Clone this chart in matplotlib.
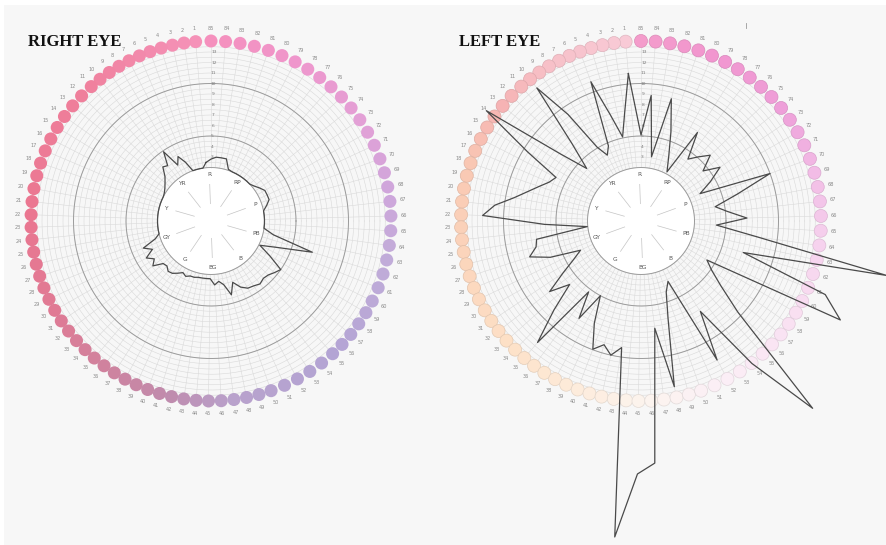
import numpy as np
import matplotlib
matplotlib.use("Agg")
import matplotlib.pyplot as plt
from matplotlib.colors import LinearSegmentedColormap, to_rgb
from matplotlib.patches import Rectangle
from matplotlib.lines import Line2D

# ---------------- data ----------------
caps = np.arange(1, 86)

# error score per cap (cap 1 .. cap 85)
right_eye = [
    2.5, 2.0, 2.0, 2.0, 2.0, 3.0, 3.8, 3.1, 4.9, 3.6,
    3.8, 3.0, 2.6, 2.3, 2.1, 2.0, 2.0, 2.0, 2.0, 2.0,
    2.0, 2.0, 2.0, 2.0, 2.0, 2.0, 2.5, 3.85, 3.1, 4.0,
    3.4, 3.9, 3.0, 2.9, 3.2, 3.1, 2.8, 2.5, 2.7, 2.5,
    2.5, 2.4, 2.4, 2.4, 2.4, 3.0, 2.7, 3.1, 4.2, 3.1,
    3.8, 4.2, 4.3, 4.5, 4.3, 4.4, 4.7, 5.0, 3.4, 2.1,
    3.7, 7.0, 3.0, 2.0, 2.0, 2.0, 2.0, 2.0, 2.4, 2.8,
    2.8, 2.8, 2.5, 2.2, 2.0, 2.0, 2.0, 2.0, 2.0, 2.0,
    2.1, 3.0, 3.0, 3.0, 2.8,
]

left_eye = [
    11.0, 7.3, 5.1, 7.4, 11.0, 4.7, 3.95, 5.1, 9.2, 13.0,
    6.8, 4.1, 6.9, 15.0, 9.5, 6.0, 6.4, 7.15, 8.05, 9.2,
    10.9, 12.0, 6.1, 2.05, 7.0, 7.2, 8.05, 6.2, 3.3, 4.3,
    5.85, 7.9, 6.0, 8.75, 12.1, 5.3, 7.9, 5.0, 7.6, 9.95,
    9.2, 10.0, 9.1, 27.1, 21.0, 20.0, 7.2, 13.0, 6.6, 4.1,
    3.2, 12.0, 7.2, 14.1, 21.1, 9.6, 6.7, 5.1, 4.2, 18.1,
    15.8, 7.1, 20.9, 8.1, 4.1, 7.0, 5.2, 4.1, 6.4, 10.0,
    3.1, 4.5, 6.0, 4.5, 6.0, 5.1, 4.3, 6.9, 2.2, 3.6,
    5.85, 8.9, 3.1, 8.9, 5.1,
]

hue_names = ["R", "YR", "Y", "GY", "G", "BG", "B", "PB", "P", "RP"]
scale_ticks = list(range(3, 14))

# ---------------- layout ----------------
W, H, DPI = 887, 545, 100
PX = 10.5                 # pixels per score unit
S0 = 2 - 53.5 / PX        # score value sitting at the hub centre
R_AX = 200                # axes radius in pixels

# angular position of the caps around the sheet (degrees, counter-clockwise from east)
ang_caps = [0, 1, 5, 11, 14, 22, 23, 43, 45, 50, 55, 60, 63, 66, 70, 74, 85]
ang_deg = [90, 94.9, 109.8, 131.7, 144.5, 178, 182, 261.3, 269.2, 289.5,
           312.5, 333.6, 347.5, 361.6, 380.2, 398.9, 450]
theta = np.deg2rad(np.interp(caps, ang_caps, ang_deg))

right_colors = [(1, '#f592b8'), (12, '#ef7f9b'), (22, '#ea7690'), (30, '#e07a94'),
                (37, '#cd84a0'), (42, '#bf8cae'), (47, '#b9a2cc'), (55, '#b3a4d4'),
                (63, '#c1acd9'), (68, '#cfa6db'), (73, '#e3a0d6'), (79, '#ef96cc'),
                (85, '#f590bd')]
left_colors = [(1, '#f8cad6'), (8, '#f7c0c8'), (13, '#f6b3b3'), (18, '#f9c8b3'),
               (25, '#fbd4bb'), (33, '#fde0c6'), (40, '#fdecdc'), (46, '#fcf4ef'),
               (52, '#fbeef6'), (58, '#f9e1f2'), (64, '#f6d3ee'), (69, '#f2bde6'),
               (74, '#ee9fd9'), (80, '#f196cf'), (85, '#f49ccb')]


def cap_colors(anchors):
    pos = [(c - 1) / 84 for c, _ in anchors]
    cmap = LinearSegmentedColormap.from_list("caps", list(zip(pos, [col for _, col in anchors])))
    return [cmap((c - 1) / 84) for c in caps]


fig = plt.figure(figsize=(W / DPI, H / DPI), dpi=DPI)
fig.patch.set_facecolor('white')
fig.add_artist(Rectangle((4 / W, 0), (W - 4) / W, (H - 5) / H, transform=fig.transFigure,
                         facecolor='#f7f7f7', edgecolor='none', zorder=-10))


def px(d):
    return S0 + d / PX


def draw_eye(cx, cy, scores, anchors, title, tx, edged):
    ax = fig.add_axes([(cx - R_AX) / W, (H - cy - R_AX) / H, 2 * R_AX / W, 2 * R_AX / H],
                      projection='polar')
    ax.set_ylim(S0, S0 + R_AX / PX)
    ax.set_facecolor('none')
    ax.grid(False)
    ax.set_xticks([])
    ax.set_yticks([])
    for sp in ax.spines.values():
        sp.set_visible(False)

    full = np.linspace(0, 2 * np.pi, 480)
    # white hub
    ax.fill(full, np.full_like(full, 2.0), color='white', zorder=0.5, lw=0)
    # fine rings and spokes
    for s in np.arange(2.0, 13.51, 0.5):
        ax.plot(full, np.full_like(full, s), color='#d9d9d9', lw=0.4, zorder=1)
    ax.vlines(theta, 2.0, 13.5, color='#dadada', lw=0.4, zorder=1)
    for s in (2.0, 5.0, 10.0):
        ax.plot(full, np.full_like(full, s), color='#9c9c9c', lw=0.7, zorder=1.2)

    # scale numbers on the top spoke
    for v in scale_ticks:
        ax.text(np.deg2rad(89.0), v, str(v), fontsize=3.2, color='#7a7a7a',
                ha='center', va='center', zorder=2)

    # hue sectors in the hub
    hue_theta = np.deg2rad(92 + 36 * np.arange(len(hue_names)))
    ax.vlines(hue_theta, px(17), px(37), color='#c4c4c4', lw=0.5, zorder=1.5)
    for th, name in zip(hue_theta, hue_names):
        ax.text(th, px(47), name, fontsize=4.2, color='#555555',
                ha='center', va='center', zorder=2)

    # cap dots and numbers
    cols = cap_colors(anchors)
    edges = [tuple(0.9 * np.array(to_rgb(c[:3]))) for c in cols] if edged else 'none'
    ax.scatter(theta, np.full(len(caps), px(180)), s=88, c=cols, edgecolors=edges,
               linewidths=0.5 if edged else 0, zorder=3, clip_on=False)
    for th, c in zip(theta, caps):
        ax.text(th, px(193), str(c), fontsize=3.6, color='#8a8a8a',
                ha='center', va='center', zorder=3, clip_on=False)

    # error score trace
    ax.plot(np.append(theta, theta[0]), np.append(scores, scores[0]),
            color='#4a4a4a', lw=0.9, zorder=4, clip_on=False)

    fig.text(tx / W, 1 - 46 / H, title, fontfamily='Liberation Serif',
             fontweight='bold', fontsize=12, ha='left', va='baseline', color='#111111')
    return ax


draw_eye(211, 221, right_eye, right_colors, 'RIGHT EYE', 28, False)
draw_eye(641, 221, left_eye, left_colors, 'LEFT EYE', 459, True)

fig.add_artist(Line2D([746 / W, 746 / W], [1 - 23 / H, 1 - 28 / H],
                      transform=fig.transFigure, color='#9a9a9a', lw=0.6))

fig.savefig('out.png', dpi=DPI, facecolor=fig.get_facecolor())
